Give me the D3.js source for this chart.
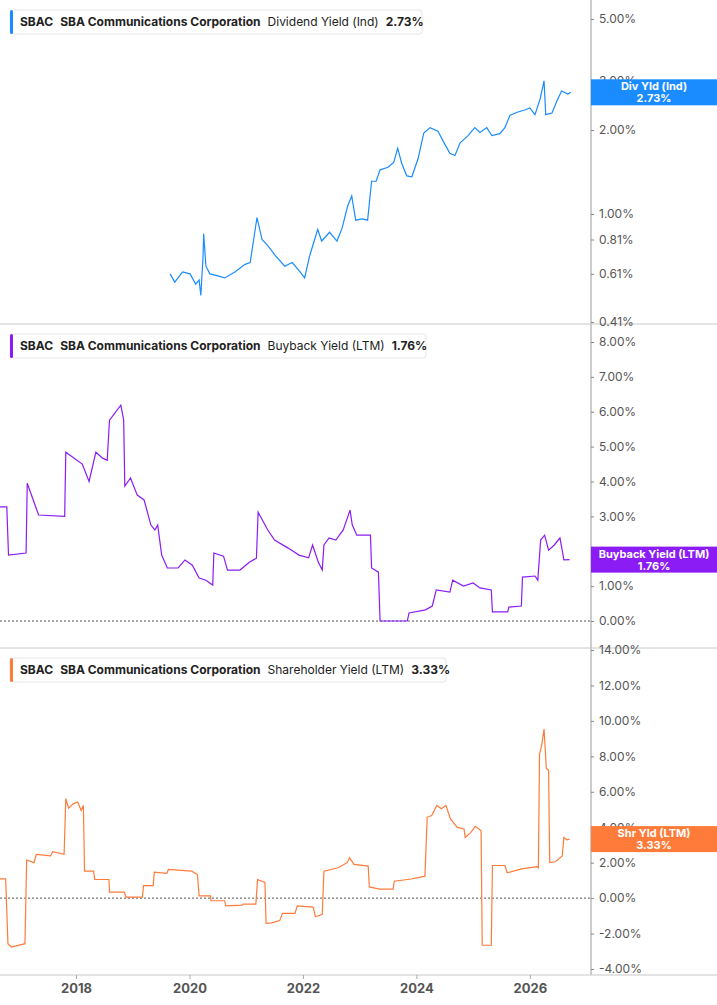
<!DOCTYPE html>
<html>
<head>
<script src="https://d3js.org/d3.v7.min.js"></script>
<style>
  body, html { margin: 0; background: #fff; }
  text { font-family: Inter, 'Noto Sans', sans-serif; }
</style>
</head>
<body>
<div id="chart"></div>
<script>
// data: decimal years and percent values
var divYears = [2019.66,2019.74,2019.88,2020.01,2020.11,2020.17,2020.20,2020.24,2020.25,2020.29,2020.36,2020.50,2020.62,2020.80,2020.98,2021.07,2021.19,2021.28,2021.38,2021.51,2021.68,2021.81,2021.95,2022.03,2022.12,2022.26,2022.33,2022.47,2022.60,2022.69,2022.79,2022.86,2022.93,2023.04,2023.14,2023.21,2023.29,2023.36,2023.50,2023.60,2023.67,2023.74,2023.83,2023.92,2024.03,2024.13,2024.24,2024.38,2024.50,2024.59,2024.68,2024.77,2024.91,2025.03,2025.12,2025.24,2025.33,2025.47,2025.56,2025.65,2025.79,2025.91,2026.00,2026.09,2026.18,2026.25,2026.28,2026.39,2026.49,2026.56,2026.67,2026.72];
var divValues = [0.61,0.57,0.62,0.61,0.56,0.58,0.51,0.71,0.85,0.65,0.61,0.60,0.59,0.62,0.66,0.67,0.97,0.81,0.77,0.71,0.65,0.67,0.62,0.59,0.71,0.88,0.80,0.86,0.80,0.89,1.07,1.16,0.95,0.96,0.95,1.31,1.31,1.44,1.47,1.53,1.72,1.52,1.37,1.36,1.58,1.95,2.04,1.98,1.78,1.65,1.62,1.80,1.91,2.04,1.96,2.04,1.91,1.94,2.04,2.26,2.32,2.36,2.40,2.27,2.58,3.00,2.27,2.30,2.58,2.76,2.69,2.73];

var bbYears = [2016.66,2016.78,2016.81,2017.12,2017.14,2017.34,2017.80,2017.82,2018.11,2018.23,2018.35,2018.47,2018.55,2018.59,2018.79,2018.84,2018.86,2018.96,2019.08,2019.20,2019.32,2019.39,2019.44,2019.51,2019.61,2019.80,2019.92,2020.05,2020.17,2020.29,2020.41,2020.43,2020.60,2020.67,2020.89,2021.06,2021.18,2021.21,2021.38,2021.50,2021.74,2021.93,2022.10,2022.17,2022.27,2022.34,2022.37,2022.46,2022.58,2022.71,2022.83,2022.87,2022.95,2023.19,2023.21,2023.33,2023.36,2023.84,2023.87,2024.16,2024.28,2024.35,2024.59,2024.64,2024.83,2025.00,2025.12,2025.32,2025.34,2025.61,2025.63,2025.85,2025.87,2026.09,2026.14,2026.19,2026.26,2026.33,2026.43,2026.53,2026.60,2026.70];
var bbValues = [3.27,3.27,1.89,1.95,3.95,3.04,3.0,4.84,4.5,4.0,4.84,4.67,4.61,5.76,6.19,5.76,3.87,4.1,3.61,3.47,2.75,2.61,2.75,1.89,1.52,1.52,1.75,1.6,1.23,1.17,1.03,1.95,1.86,1.46,1.46,1.69,1.8,3.12,2.61,2.32,2.09,1.89,1.81,2.18,1.69,1.46,2.18,2.38,2.32,2.61,3.18,2.75,2.46,2.46,1.52,1.40,0,0,0.23,0.32,0.43,0.89,0.83,1.17,1.0,1.09,0.95,0.89,0.26,0.26,0.40,0.43,1.26,1.29,1.17,2.32,2.46,2.03,2.18,2.38,1.75,1.76];

var shYears = [2016.66,2016.76,2016.80,2016.86,2017.10,2017.13,2017.26,2017.30,2017.55,2017.59,2017.79,2017.82,2017.87,2017.95,2018.03,2018.09,2018.13,2018.15,2018.31,2018.33,2018.58,2018.59,2018.85,2018.88,2019.17,2019.19,2019.36,2019.38,2019.60,2019.63,2020.04,2020.14,2020.17,2020.37,2020.38,2020.62,2020.64,2020.93,2020.95,2021.17,2021.20,2021.33,2021.35,2021.45,2021.59,2021.64,2021.86,2021.90,2022.18,2022.22,2022.34,2022.37,2022.62,2022.78,2022.82,2022.90,2023.15,2023.17,2023.35,2023.59,2023.61,2023.91,2024.15,2024.19,2024.27,2024.36,2024.44,2024.52,2024.60,2024.72,2024.84,2024.86,2024.96,2025.04,2025.14,2025.16,2025.32,2025.34,2025.56,2025.60,2025.85,2026.13,2026.15,2026.17,2026.21,2026.25,2026.29,2026.33,2026.35,2026.45,2026.57,2026.60,2026.65,2026.70];
var shValues = [1.08,1.08,-2.57,-2.76,-2.57,2.15,2.0,2.47,2.38,2.62,2.47,5.61,5.08,5.32,5.42,4.94,5.23,1.52,1.52,1.05,1.05,0.34,0.34,0.06,0.06,0.70,0.70,1.46,1.40,1.62,1.52,1.33,0.13,0.13,-0.15,-0.15,-0.44,-0.40,-0.34,-0.34,1.05,0.89,-1.43,-1.40,-1.27,-0.86,-0.86,-0.44,-0.51,-1.05,-0.91,1.52,1.71,2.0,2.28,1.90,1.81,0.63,0.51,0.51,0.95,1.08,1.24,4.56,4.66,5.23,5.04,5.23,4.47,3.99,3.90,3.42,3.71,4.05,3.80,-2.66,-2.66,1.84,1.84,1.43,1.65,1.77,1.71,8.12,8.65,9.54,7.32,7.22,2.0,2.05,2.38,3.42,3.29,3.33];

var divTicks = [5, 3, 2, 1, 0.81, 0.61, 0.41];
var bbTicks = [0, 1, 2, 3, 4, 5, 6, 7, 8];
var shTicks = [-4, -2, 0, 2, 4, 6, 8, 10, 12, 14];
var yearTicks = [2018, 2020, 2022, 2024, 2026];

var W = 717, H = 1005, plotR = 591;
var svg = d3.select("#chart").append("svg").attr("width", W).attr("height", H);
var x = d3.scaleLinear().domain([2016.66, 2027.06]).range([0, 590]);

var panels = [
  { years: divYears, vals: divValues, ticks: divTicks, color: "#1a8cff",
    y: d3.scaleLog().domain([0.41, 5]).range([322, 19]), top: 0, bottom: 324,
    name: "Dividend Yield (Ind)", last: "2.73%", tag: ["Div Yld (Ind)", "2.73%"], legW: 412, zero: false },
  { years: bbYears, vals: bbValues, ticks: bbTicks, color: "#8b1cf5",
    y: d3.scaleLinear().domain([0, 8]).range([621, 342]), top: 324, bottom: 648,
    name: "Buyback Yield (LTM)", last: "1.76%", tag: ["Buyback Yield (LTM)", "1.76%"], legW: 416, zero: true },
  { years: shYears, vals: shValues, ticks: shTicks, color: "#ff7b3a",
    y: d3.scaleLinear().domain([-4, 14]).range([969, 650]), top: 648, bottom: 975,
    name: "Shareholder Yield (LTM)", last: "3.33%", tag: ["Shr Yld (LTM)", "3.33%"], legW: 436, zero: true }
];

svg.append("line").attr("x1", plotR).attr("x2", plotR).attr("y1", 0).attr("y2", 975)
  .attr("stroke", "#bbb").attr("stroke-width", 1.5);

panels.forEach(function(p) {
  var g = svg.append("g");
  g.append("line").attr("x1", 0).attr("x2", W).attr("y1", p.bottom).attr("y2", p.bottom)
    .attr("stroke", "#c8c8c8");

  if (p.zero) {
    g.append("line").attr("x1", 0).attr("x2", plotR).attr("y1", p.y(0)).attr("y2", p.y(0))
      .attr("stroke", "#555").attr("stroke-dasharray", "2,2");
  }

  var ax = g.append("g").attr("transform", "translate(" + plotR + ",0)")
    .call(d3.axisRight(p.y).tickValues(p.ticks).tickSize(3).tickPadding(5)
      .tickFormat(function(d) { return d.toFixed(2) + "%"; }));
  ax.select(".domain").remove();
  ax.selectAll("line").attr("stroke", "#888");
  ax.selectAll("text").attr("fill", "#555").style("font-size", "12px");

  var pts = p.years.map(function(yr, i) { return [yr, p.vals[i]]; });
  g.append("path").datum(pts)
    .attr("fill", "none").attr("stroke", p.color).attr("stroke-width", 1.2)
    .attr("d", d3.line().x(function(d) { return x(d[0]); }).y(function(d) { return p.y(d[1]); }));

  // legend
  var lg = g.append("g").attr("transform", "translate(10," + (p.top + 10) + ")");
  lg.append("rect").attr("width", p.legW).attr("height", 24).attr("rx", 3)
    .attr("fill", "#fff").attr("stroke", "#e6e6e6");
  lg.append("rect").attr("width", 3).attr("height", 24).attr("rx", 1.5).attr("fill", p.color);
  var t = lg.append("text").attr("x", 10).attr("y", 16).style("font-size", "12px").attr("fill", "#222");
  t.append("tspan").attr("font-weight", "bold").text("SBAC");
  t.append("tspan").attr("dx", 7).attr("font-weight", "bold").text("SBA Communications Corporation");
  t.append("tspan").attr("dx", 7).text(p.name);
  t.append("tspan").attr("dx", 7).attr("font-weight", "bold").text(p.last);

  // last value tag
  var lv = p.y(p.vals[p.vals.length - 1]);
  var tg = g.append("g").attr("transform", "translate(" + plotR + "," + (lv - 13) + ")");
  tg.append("rect").attr("width", W - plotR).attr("height", 26).attr("fill", p.color);
  tg.append("text").attr("x", (W - plotR) / 2).attr("y", 11).attr("text-anchor", "middle")
    .attr("fill", "#fff").attr("font-weight", "bold").style("font-size", "11px").text(p.tag[0]);
  tg.append("text").attr("x", (W - plotR) / 2).attr("y", 23).attr("text-anchor", "middle")
    .attr("fill", "#fff").attr("font-weight", "bold").style("font-size", "11px").text(p.tag[1]);
});

var xa = svg.append("g").attr("transform", "translate(0,975)")
  .call(d3.axisBottom(x).tickValues(yearTicks).tickSize(4).tickPadding(5).tickFormat(d3.format("d")));
xa.select(".domain").remove();
xa.selectAll("line").attr("stroke", "#aaa");
xa.selectAll("text").attr("fill", "#555").attr("font-weight", "bold").style("font-size", "13px");
</script>
</body>
</html>
